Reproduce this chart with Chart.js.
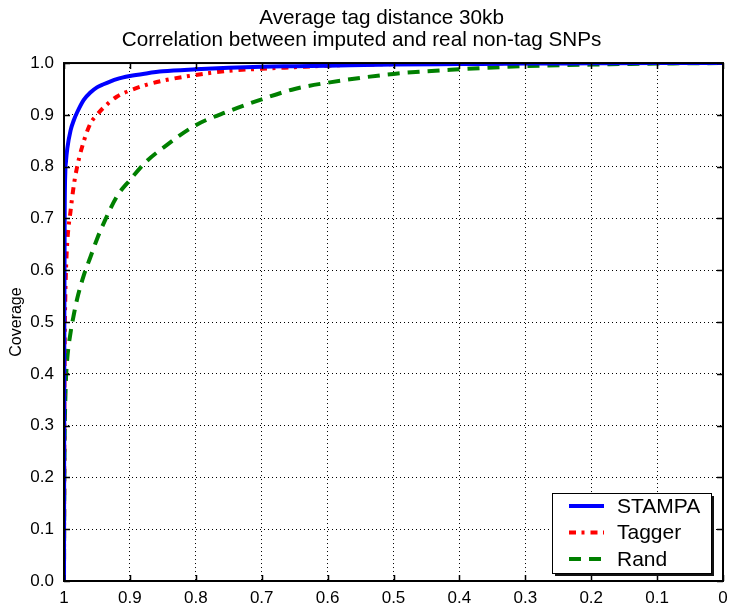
<!DOCTYPE html>
<html>
<head>
<meta charset="utf-8">
<script src="https://cdn.jsdelivr.net/npm/chart.js@4.4.0/dist/chart.umd.min.js"></script>
<style>
  body { margin: 0; background: #fff; }
  canvas { display: block; }
</style>
</head>
<body>
<canvas id="coverageChart" width="729" height="608"></canvas>
<script>
/* datos */
const umbrales = [1, 0.9995, 0.999, 0.998, 0.997, 0.995, 0.99, 0.985, 0.98, 0.97, 0.96, 0.95, 0.94, 0.92,
  0.9, 0.875, 0.85, 0.8, 0.75, 0.7, 0.65, 0.6, 0.5, 0.4, 0.3, 0.2, 0.1, 0];
const stampa = [0, 0.5, 0.7, 0.79, 0.81, 0.835, 0.87, 0.89, 0.905, 0.929, 0.943, 0.953, 0.959, 0.969,
  0.975, 0.98, 0.984, 0.988, 0.991, 0.993, 0.994, 0.995, 0.997, 0.998, 0.999, 0.9995, 1, 1];
const tagger = [0, 0.3, 0.45, 0.55, 0.6, 0.655, 0.715, 0.765, 0.8, 0.849, 0.883, 0.9, 0.914, 0.935,
  0.947, 0.958, 0.966, 0.977, 0.985, 0.989, 0.992, 0.995, 0.998, 0.999, 1, 1, 1, 1];
const rand = [0, 0.18, 0.28, 0.35, 0.39, 0.43, 0.48, 0.515, 0.545, 0.59, 0.625, 0.66, 0.69, 0.742,
  0.774, 0.81, 0.836, 0.88, 0.907, 0.93, 0.95, 0.962, 0.979, 0.988, 0.994, 0.997, 0.999, 1];

const ticksX = ['0', '0.1', '0.2', '0.3', '0.4', '0.5', '0.6', '0.7', '0.8', '0.9', '1'];
const ticksY = ['0.0', '0.1', '0.2', '0.3', '0.4', '0.5', '0.6', '0.7', '0.8', '0.9', '1.0'];

const fuente = '"Liberation Sans", Arial, sans-serif';

const puntos = serie => umbrales.map((x, i) => ({ x: x, y: serie[i] }));

/* marco y ticks hacia dentro, estilo matlab */
const marcoEjes = {
    id: 'marcoEjes',
    afterDatasetsDraw(chart) {
        const { ctx, chartArea: a, scales } = chart;
        ctx.save();
        ctx.strokeStyle = '#000';
        ctx.lineWidth = 1.5;
        ctx.beginPath();
        scales.x.ticks.forEach(t => {
            const px = Math.round(scales.x.getPixelForValue(t.value)) + 0.5;
            ctx.moveTo(px, a.bottom); ctx.lineTo(px, a.bottom - 6);
            ctx.moveTo(px, a.top); ctx.lineTo(px, a.top + 6);
        });
        scales.y.ticks.forEach(t => {
            const py = Math.round(scales.y.getPixelForValue(t.value)) + 0.5;
            ctx.moveTo(a.left, py); ctx.lineTo(a.left + 6, py);
            ctx.moveTo(a.right, py); ctx.lineTo(a.right - 6, py);
        });
        ctx.stroke();
        ctx.lineWidth = 2;
        ctx.strokeRect(a.left, a.top, a.right - a.left, a.bottom - a.top);
        ctx.restore();
    }
};

/* leyenda abajo a la derecha, con sombra */
const leyendaCaja = {
    id: 'leyendaCaja',
    afterDraw(chart) {
        const { ctx, chartArea } = chart;
        const w = 159, h = 80;
        const x0 = chartArea.right - 12 - w;
        const y0 = chartArea.bottom - 8 - h;
        ctx.save();
        ctx.fillStyle = '#111';
        ctx.fillRect(x0 + 3, y0 + 3, w, h);
        ctx.fillStyle = '#fff';
        ctx.fillRect(x0, y0, w, h);
        ctx.strokeStyle = '#000';
        ctx.lineWidth = 1;
        ctx.strokeRect(x0 + 0.5, y0 + 0.5, w, h);
        chart.data.datasets.forEach((ds, i) => {
            const y = y0 + 13 + i * 26.5;
            ctx.beginPath();
            ctx.setLineDash(ds.borderDash || []);
            ctx.strokeStyle = ds.borderColor;
            ctx.lineWidth = ds.borderWidth;
            ctx.moveTo(x0 + 17, y);
            ctx.lineTo(x0 + 52, y);
            ctx.stroke();
            ctx.setLineDash([]);
            ctx.fillStyle = '#000';
            ctx.font = '21px ' + fuente;
            ctx.textBaseline = 'middle';
            ctx.fillText(ds.label, x0 + 65, y + 1);
        });
        ctx.restore();
    }
};

const ctx = document.getElementById('coverageChart').getContext('2d');
const myChart = new Chart(ctx, {
    type: 'line',
    data: {
        datasets: [{
            label: 'STAMPA',
            data: puntos(stampa),
            borderColor: '#0000ff',
            borderWidth: 4
        },
        {
            label: 'Tagger',
            data: puntos(tagger),
            borderColor: '#ff0000',
            borderWidth: 4,
            borderDash: [7, 5.5, 3, 6]
        },
        {
            label: 'Rand',
            data: puntos(rand),
            borderColor: '#008000',
            borderWidth: 4,
            borderDash: [12, 8]
        }]
    },
    options: {
        responsive: false,
        animation: false,
        cubicInterpolationMode: 'monotone',
        elements: {
            point: { radius: 0 },
            line: { fill: false }
        },
        layout: { padding: { right: 6 } },
        plugins: {
            legend: { display: false },
            tooltip: { enabled: false },
            title: {
                display: true,
                // la primera linea va algo corrida a la derecha en el original
                text: ['       Average tag distance 30kb', 'Correlation between imputed and real non-tag SNPs'],
                color: '#000',
                font: { family: fuente, size: 20.7, weight: 'normal', lineHeight: 1.1 },
                padding: { top: 6.5, bottom: 11 }
            }
        },
        scales: {
            x: {
                type: 'linear',
                reverse: true,
                min: 0,
                max: 1,
                afterFit: scale => {
                    scale.height = 27;
                    scale.paddingLeft = 0;
                    scale.paddingRight = 0;
                },
                grid: { color: '#000', lineWidth: 1, drawTicks: false },
                border: { display: false, dash: [1, 3] },
                ticks: {
                    stepSize: 0.1,
                    padding: 7,
                    color: '#000',
                    font: { family: fuente, size: 17 },
                    callback: v => ticksX[Math.round(v * 10)]
                }
            },
            y: {
                min: 0,
                max: 1,
                afterFit: scale => {
                    scale.width = 64;
                    scale.paddingTop = 0;
                    scale.paddingBottom = 0;
                },
                grid: { color: '#000', lineWidth: 1, drawTicks: false },
                border: { display: false, dash: [1, 3] },
                title: {
                    display: true,
                    text: 'Coverage',
                    color: '#000',
                    font: { family: fuente, size: 16 },
                    padding: { top: 7 }
                },
                ticks: {
                    stepSize: 0.1,
                    padding: 10,
                    color: '#000',
                    font: { family: fuente, size: 17 },
                    callback: v => ticksY[Math.round(v * 10)]
                }
            }
        }
    },
    plugins: [marcoEjes, leyendaCaja]
});
</script>
</body>
</html>
